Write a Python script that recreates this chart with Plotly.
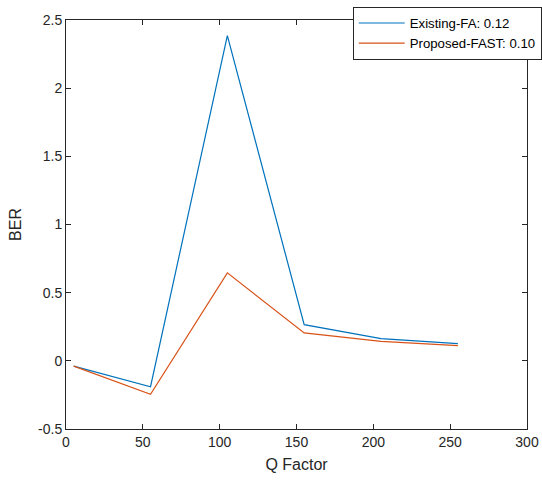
import plotly.graph_objects as go

q_factor = [5, 55, 105, 155, 205, 255]
existing_fa = [-0.039, -0.19, 2.385, 0.265, 0.163, 0.126]
proposed_fast = [-0.039, -0.245, 0.645, 0.205, 0.142, 0.112]

fig = go.Figure()
fig.add_trace(go.Scatter(x=q_factor, y=existing_fa, mode="lines",
                         name="Existing-FA: 0.12",
                         line=dict(color="#0072BD", width=1.2)))
fig.add_trace(go.Scatter(x=q_factor, y=proposed_fast, mode="lines",
                         name="Proposed-FAST: 0.10",
                         line=dict(color="#D95319", width=1.2)))

font_fam = "Liberation Sans, Arial"
axis_common = dict(showgrid=False, zeroline=False, showline=True, mirror="ticks",
                   linecolor="#262626", linewidth=1, ticks="inside", ticklen=5,
                   tickcolor="#262626", automargin=False,
                   tickfont=dict(family=font_fam, size=14, color="#262626"))

fig.update_xaxes(range=[0, 300], tickvals=[0, 50, 100, 150, 200, 250, 300],
                 title=dict(text="Q Factor", font=dict(family=font_fam, size=16, color="#262626"), standoff=10),
                 **axis_common)
fig.update_yaxes(range=[-0.5, 2.5], tickvals=[-0.5, 0, 0.5, 1, 1.5, 2, 2.5],
                 ticktext=["-0.5", "0", "0.5", "1", "1.5", "2", "2.5"],
                 title=dict(text="BER", font=dict(family=font_fam, size=16, color="#262626"), standoff=12),
                 **axis_common)

fig.update_layout(
    width=542, height=482,
    margin=dict(l=65.5, r=15, t=20, b=53, autoexpand=False),
    plot_bgcolor="white", paper_bgcolor="white",
    legend=dict(x=0.622, y=1.032, xanchor="left", yanchor="top",
                bgcolor="white", bordercolor="#262626", borderwidth=1,
                font=dict(family=font_fam, size=13.2, color="#000000"),
                tracegroupgap=0, itemwidth=46),
)

fig.write_html("out.html", config={"displayModeBar": False},
               post_script="document.body.style.margin='0';document.body.style.padding='0';document.body.style.overflow='hidden';")
